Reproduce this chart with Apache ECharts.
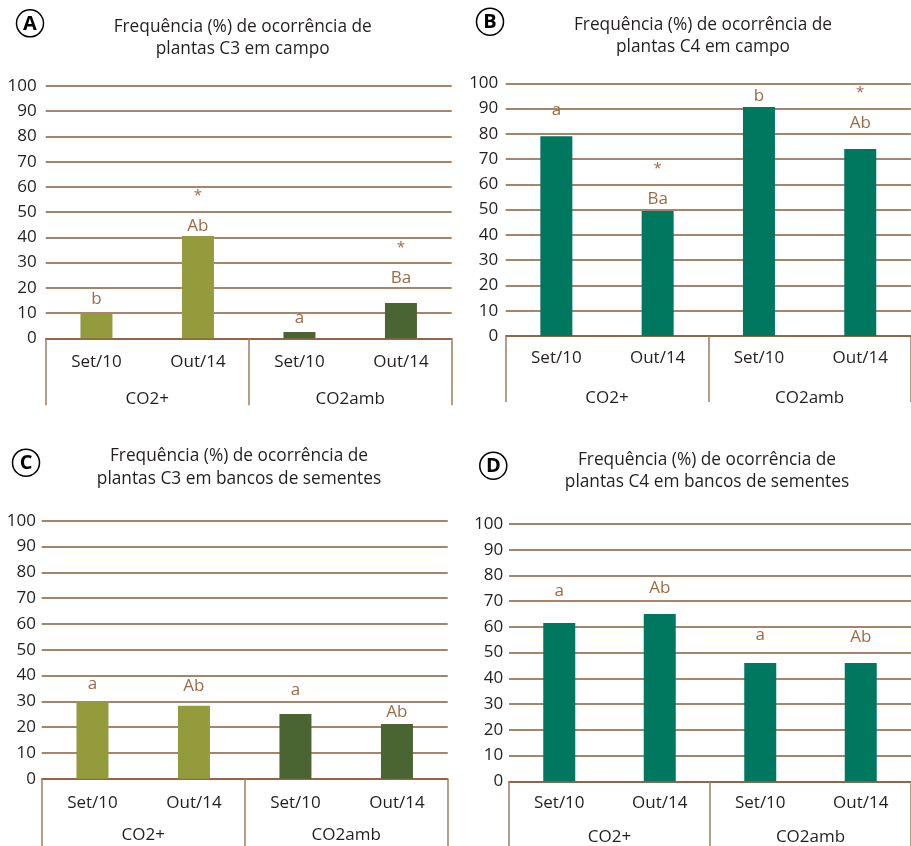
<!DOCTYPE html>
<html>
<head>
<meta charset="utf-8">
<script src="https://cdn.jsdelivr.net/npm/echarts@6/dist/echarts.min.js"></script>
<style>
  html, body { margin: 0; padding: 0; background: #fff; }
  #chart { width: 911px; height: 846px; }
</style>
</head>
<body>
<div id="chart"></div>
<script>
// Categories shared by all four panels
const categories = ['Set/10', 'Out/14', 'Set/10', 'Out/14'];
const groups = ['CO2+', 'CO2amb'];

// Frequency (%) of occurrence
const c3Campo = [10, 40.5, 2.5, 14];
const c4Campo = [79, 49.5, 90.6, 74];
const c3Banco = [30, 28.3, 25.1, 21.2];
const c4Banco = [61.5, 65, 46, 46];

// Significance letters and asterisks per bar
const lettersC3Campo = ['b', 'Ab', 'a', 'Ba'];
const starsC3Campo = [false, true, false, true];
const lettersC4Campo = ['a', 'Ba', 'b', 'Ab'];
const starsC4Campo = [false, true, false, true];
const lettersC3Banco = ['a', 'Ab', 'a', 'Ab'];
const starsC3Banco = [false, false, false, false];
const lettersC4Banco = ['a', 'Ab', 'a', 'Ab'];
const starsC4Banco = [false, false, false, false];

const titles = [
  'Frequência (%) de ocorrência de\nplantas C3 em campo',
  'Frequência (%) de ocorrência de\nplantas C4 em campo',
  'Frequência (%) de ocorrência de\nplantas C3 em bancos de sementes',
  'Frequência (%) de ocorrência de\nplantas C4 em bancos de sementes'
];
const badges = ['A', 'B', 'C', 'D'];

const OLIVE = '#939B3D', DARK = '#4A6531', TEAL = '#00775F';
const GRID_COLOR = '#8C5B3B', FRAME_COLOR = '#A07D62', MARK_TEXT = '#9C6B45', INK = '#231F20';
const FONT = '"Open Sans", sans-serif';

const panels = [
  { values: c3Campo, letters: lettersC3Campo, stars: starsC3Campo, colors: [OLIVE, OLIVE, DARK, DARK],
    grid: { left: 45.7, top: 86, width: 406, height: 252.3 }, titlePos: [242.7, 15.5], badgePos: [30, 23.3],
    gaps: [4, 0, 4, 15], catMargin: 15, groupMargin: 52, tickLen: 67, yMargin: 9 },
  { values: c4Campo, letters: lettersC4Campo, stars: starsC4Campo, colors: [TEAL, TEAL, TEAL, TEAL],
    grid: { left: 505.7, top: 83.3, width: 405.2, height: 252.7 }, titlePos: [703, 13.5], badgePos: [490, 21.7],
    gaps: [16, 2, 1, 16], catMargin: 14, groupMargin: 54, tickLen: 66, yMargin: 7.4 },
  { values: c3Banco, letters: lettersC3Banco, stars: starsC3Banco, colors: [OLIVE, OLIVE, DARK, DARK],
    grid: { left: 41.7, top: 520.7, width: 406, height: 258 }, titlePos: [239, 445], badgePos: [26, 462.7],
    gaps: [7, 10, 14, 2], catMargin: 16, groupMargin: 48, tickLen: 68, yMargin: 5.7 },
  { values: c4Banco, letters: lettersC4Banco, stars: starsC4Banco, colors: [TEAL, TEAL, TEAL, TEAL],
    grid: { left: 509, top: 524, width: 405.4, height: 257.3 }, titlePos: [707, 448.5], badgePos: [493.3, 465.7],
    gaps: [22, 16, 18, 16], catMargin: 13, groupMargin: 47, tickLen: 68, yMargin: 5.7 }
];

const grid = [], xAxis = [], yAxis = [], series = [], graphic = [];

panels.forEach((p, i) => {
  grid.push(Object.assign({ containLabel: false }, p.grid));

  // lower level: sampling dates
  xAxis.push({
    type: 'category', gridIndex: i, data: categories, boundaryGap: true,
    axisLine: { show: true, lineStyle: { color: GRID_COLOR, width: 1.5 } },
    axisTick: { show: false },
    axisLabel: { margin: p.catMargin, fontSize: 17, color: INK, fontFamily: FONT, interval: 0 }
  });
  // upper level: CO2 treatment, with its boundary lines drawn as long ticks
  xAxis.push({
    type: 'category', gridIndex: i, data: groups, position: 'bottom', boundaryGap: true,
    axisLine: { show: false },
    axisTick: { show: true, length: p.tickLen, interval: 0, lineStyle: { color: FRAME_COLOR, width: 1.5 } },
    axisLabel: { margin: p.groupMargin, fontSize: 17, color: INK, fontFamily: FONT, interval: 0 }
  });

  yAxis.push({
    type: 'value', gridIndex: i, min: 0, max: 100, interval: 10,
    axisLine: { show: false }, axisTick: { show: false },
    axisLabel: { margin: p.yMargin, fontSize: 17, color: INK, fontFamily: FONT },
    splitLine: { lineStyle: { color: GRID_COLOR, width: 1.5 } }
  });

  series.push({
    type: 'bar', xAxisIndex: i * 2, yAxisIndex: i, barWidth: 32, silent: true,
    data: p.values.map((v, k) => ({
      value: v,
      itemStyle: { color: p.colors[k] },
      label: {
        show: true, position: 'top', distance: p.gaps[k],
        formatter: p.stars[k] ? '{s|*}\n{t|' + p.letters[k] + '}' : '{t|' + p.letters[k] + '}',
        rich: {
          t: { fontSize: 17, lineHeight: 20, color: MARK_TEXT, fontFamily: FONT },
          s: { fontSize: 15, lineHeight: 40, color: MARK_TEXT, fontFamily: FONT }
        }
      }
    }))
  });

  graphic.push({
    type: 'text', x: p.titlePos[0], y: p.titlePos[1],
    style: { text: titles[i], align: 'center', verticalAlign: 'top', fontSize: 17.3, lineHeight: 22.6,
             fill: INK, fontFamily: FONT }
  });
  graphic.push({
    type: 'circle', shape: { cx: p.badgePos[0], cy: p.badgePos[1], r: 13.5 },
    style: { fill: '#fff', stroke: '#000', lineWidth: 1.5 }
  });
  graphic.push({
    type: 'text', x: p.badgePos[0], y: p.badgePos[1] + 1,
    style: { text: badges[i], align: 'center', verticalAlign: 'middle', fontSize: 20, fontWeight: 'bold',
             fill: '#000', fontFamily: FONT }
  });
});

const chart = echarts.init(document.getElementById('chart'), null, { renderer: 'canvas' });
chart.setOption({ animation: false, backgroundColor: '#fff', grid, xAxis, yAxis, series, graphic });
</script>
</body>
</html>
